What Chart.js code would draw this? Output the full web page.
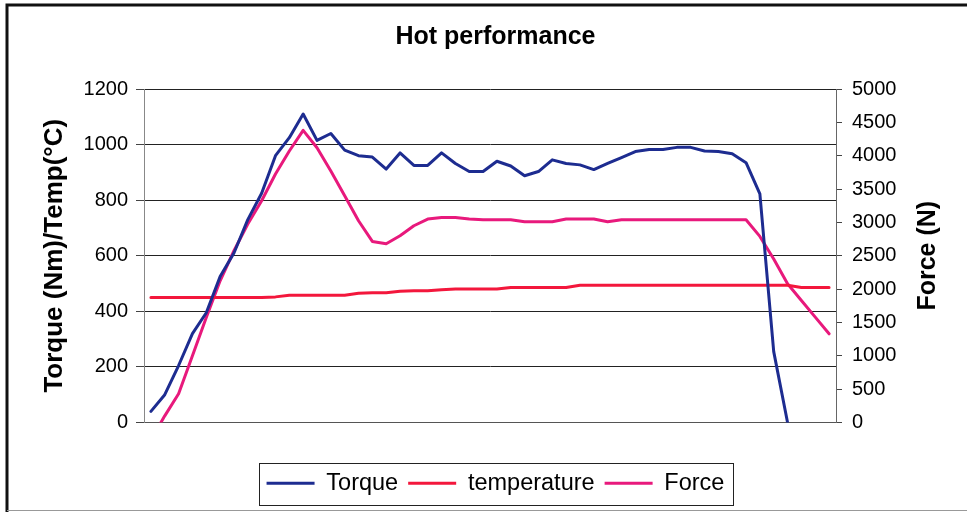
<!DOCTYPE html>
<html>
<head>
<meta charset="utf-8">
<script src="https://cdn.jsdelivr.net/npm/chart.js@4/dist/chart.umd.min.js"></script>
<style>
  html, body { margin: 0; padding: 0; background: #fff; }
  #wrap { width: 967px; height: 512px; position: relative; }
</style>
</head>
<body>
<div id="wrap"><canvas id="myChart" width="967" height="512"></canvas></div>
<script>
// sample index along the test (no labels shown on the x axis)
const samples = Array.from({ length: 50 }, (_, i) => String(i + 1));

// Torque (Nm), left axis
const torque = [40, 100, 205, 320, 395, 525, 610, 730, 825, 960,
  1025, 1110, 1015, 1040, 980, 960, 955, 912, 970, 925,
  925, 970, 932, 903, 903, 940, 923, 888, 903, 945,
  932, 927, 910, 932, 953, 975, 982, 982, 990, 990,
  977, 975, 967, 935, 823, 255, 0, null, null, null];

// temperature (C), left axis
const temperature = [450, 450, 450, 450, 450, 450, 450, 450, 450, 452,
  458, 458, 458, 458, 458, 465, 467, 467, 472, 474,
  474, 478, 480, 480, 480, 480, 486, 486, 486, 486,
  486, 494, 494, 494, 494, 494, 494, 494, 494, 494,
  494, 494, 494, 494, 494, 494, 494, 486, 486, 486];

// Force (N), right axis
const force = [-260, 100, 430, 1000, 1575, 2125, 2575, 2975, 3325, 3725,
  4070, 4380, 4120, 3770, 3400, 3025, 2715, 2680, 2800, 2950,
  3050, 3075, 3075, 3050, 3040, 3040, 3040, 3010, 3010, 3010,
  3050, 3050, 3050, 3010, 3040, 3040, 3040, 3040, 3040, 3040,
  3040, 3040, 3040, 3040, 2790, 2450, 2080, 1830, 1580, 1330];

const leftTicks = [0, 200, 400, 600, 800, 1000, 1200];
const rightTicks = [0, 500, 1000, 1500, 2000, 2500, 3000, 3500, 4000, 4500, 5000];

const FONT = '"Liberation Sans", Arial, sans-serif';

// white page, outer frame, legend box and the right axis title
const decor = {
  id: 'decor',
  beforeDraw(chart) {
    const c = chart.ctx;
    c.save();
    c.fillStyle = '#fff';
    c.fillRect(0, 0, chart.width, chart.height);
    c.restore();
  },
  afterDraw(chart) {
    const c = chart.ctx;
    c.save();
    // frame
    c.strokeStyle = '#111';
    c.lineWidth = 3;
    c.beginPath();
    c.moveTo(7, 512);
    c.lineTo(7, 5);
    c.lineTo(967, 5);
    c.stroke();
    c.strokeStyle = '#999';
    c.lineWidth = 1;
    c.beginPath();
    c.moveTo(7, 510.5);
    c.lineTo(967, 510.5);
    c.stroke();

    // legend border
    const boxes = chart.legend.legendHitBoxes;
    if (boxes && boxes.length) {
      const x0 = Math.min(...boxes.map(b => b.left)) - 8;
      const x1 = Math.max(...boxes.map(b => b.left + b.width)) + 8;
      const y0 = Math.min(...boxes.map(b => b.top)) - 9;
      const y1 = Math.max(...boxes.map(b => b.top + b.height)) + 9;
      c.strokeStyle = '#222';
      c.lineWidth = 1;
      c.strokeRect(Math.round(x0) + 0.5, Math.round(y0) + 0.5, Math.round(x1 - x0), Math.round(y1 - y0));
    }

    // right axis title reads bottom to top
    const a = chart.chartArea;
    c.translate(928, (a.top + a.bottom) / 2);
    c.rotate(-Math.PI / 2);
    c.fillStyle = '#000';
    c.font = 'bold 25px ' + FONT;
    c.textAlign = 'center';
    c.textBaseline = 'middle';
    c.fillText('Force (N)', 0, 0);
    c.restore();
  }
};

const ctx = document.getElementById('myChart').getContext('2d');
const myChart = new Chart(ctx, {
  type: 'line',
  data: {
    labels: samples,
    datasets: [
      { label: 'Torque', data: torque, yAxisID: 'y', borderColor: '#1d2c90', backgroundColor: '#1d2c90', borderWidth: 3 },
      { label: 'temperature', data: temperature, yAxisID: 'y', borderColor: '#f3173c', backgroundColor: '#f3173c', borderWidth: 3 },
      { label: 'Force', data: force, yAxisID: 'y1', borderColor: '#e8197c', backgroundColor: '#e8197c', borderWidth: 3 },
    ],
  },
  options: {
    responsive: false,
    animation: false,
    spanGaps: false,
    elements: {
      point: { radius: 0, hoverRadius: 0 },
      line: { tension: 0, borderJoinStyle: 'round', borderCapStyle: 'round' },
    },
    layout: { padding: { left: 24, right: 0, top: 0, bottom: 7 } },
    plugins: {
      tooltip: { enabled: false },
      title: {
        display: true,
        text: 'Hot performance',
        color: '#000',
        font: { family: FONT, size: 25, weight: 'bold' },
        padding: { top: 22, bottom: 37 },
      },
      legend: {
        position: 'bottom',
        labels: {
          color: '#000',
          font: { family: FONT, size: 23.5 },
          usePointStyle: true,
          pointStyle: 'line',
          pointStyleWidth: 48,
          padding: 10,
        },
      },
    },
    scales: {
      x: {
        type: 'category',
        offset: true,
        grid: { display: false },
        border: { display: true, color: '#555', width: 1 },
        ticks: { display: false },
        afterFit(scale) { scale.height = 39; },
      },
      y: {
        position: 'left',
        min: 0,
        max: 1200,
        afterBuildTicks(scale) { scale.ticks = leftTicks.map(v => ({ value: v })); },
        ticks: {
          color: '#000',
          font: { family: FONT, size: 20 },
          padding: 8,
          callback: (v) => String(v),
        },
        grid: { color: '#222', lineWidth: 1, tickLength: 8, tickColor: '#444' },
        border: { display: true, color: '#888', width: 1 },
        title: {
          display: true,
          text: 'Torque (Nm)/Temp(°C)',
          color: '#000',
          font: { family: FONT, size: 26, weight: 'bold' },
          padding: { top: 15, bottom: 0 },
        },
        afterFit(scale) { scale.width = 120; },
      },
      y1: {
        position: 'right',
        min: 0,
        max: 5000,
        afterBuildTicks(scale) { scale.ticks = rightTicks.map(v => ({ value: v })); },
        ticks: {
          color: '#000',
          font: { family: FONT, size: 20 },
          padding: 10,
          callback: (v) => String(v),
        },
        grid: { drawOnChartArea: false, tickLength: 6, tickColor: '#444' },
        border: { display: true, color: '#666', width: 1 },
        afterFit(scale) { scale.width = 131; },
      },
    },
  },
  plugins: [decor],
});

myChart.update();
</script>
</body>
</html>
